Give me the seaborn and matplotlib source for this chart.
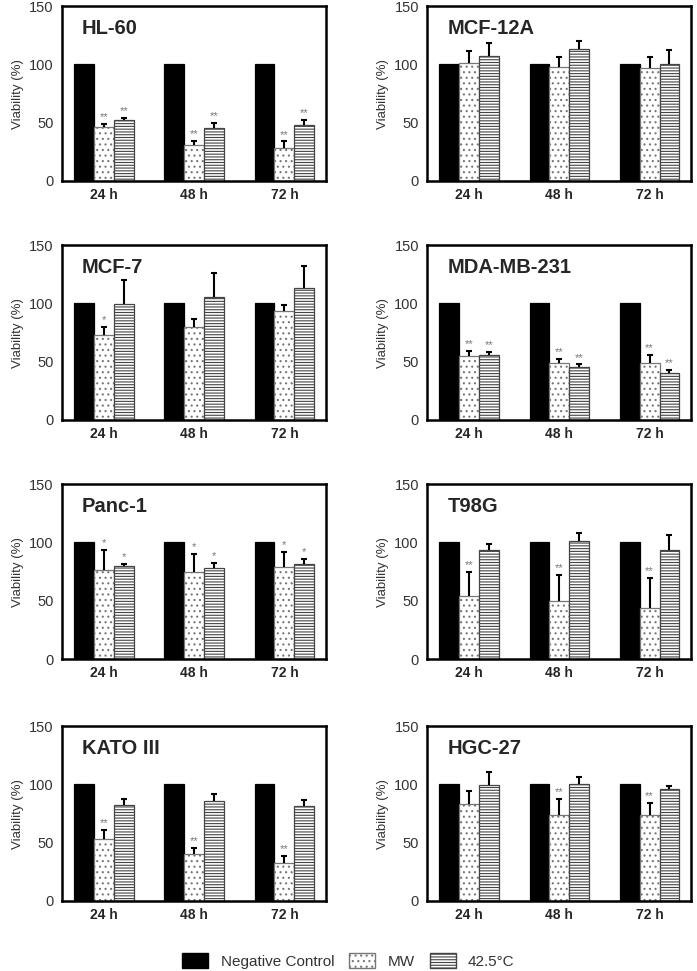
import pandas as pd
import matplotlib.pyplot as plt
import seaborn as sns
from matplotlib.patches import Patch

# Data
cell_lines = ["HL-60", "MCF-12A", "MCF-7", "MDA-MB-231", "Panc-1", "T98G", "KATO III", "HGC-27"]
times = ["24 h", "48 h", "72 h"]
groups = ["Negative Control", "MW", "42.5°C"]

control_mean = [100, 100, 100]

mw_mean = {
    "HL-60": [46.7, 30.8, 28.2],
    "MCF-12A": [101.4, 98.0, 96.6],
    "MCF-7": [72.9, 79.6, 93.3],
    "MDA-MB-231": [55.0, 48.8, 49.1],
    "Panc-1": [76.6, 74.9, 79.2],
    "T98G": [54.5, 49.9, 43.5],
    "KATO III": [53.5, 40.1, 32.3],
    "HGC-27": [83.5, 74.1, 74.1],
}
mw_sd = {
    "HL-60": [2.3, 3.8, 5.8],
    "MCF-12A": [10.0, 8.3, 9.7],
    "MCF-7": [7.3, 7.3, 5.5],
    "MDA-MB-231": [4.6, 3.8, 6.7],
    "Panc-1": [16.8, 15.0, 12.7],
    "T98G": [20.0, 22.0, 25.8],
    "KATO III": [7.5, 5.5, 6.4],
    "HGC-27": [11.2, 13.3, 10.0],
}
heat_mean = {
    "HL-60": [52.4, 45.2, 47.8],
    "MCF-12A": [107.4, 113.4, 100.6],
    "MCF-7": [99.4, 105.2, 113.1],
    "MDA-MB-231": [55.6, 45.3, 40.4],
    "Panc-1": [79.5, 77.7, 81.8],
    "T98G": [93.3, 101.2, 93.3],
    "KATO III": [82.6, 85.5, 81.4],
    "HGC-27": [99.7, 100.3, 96.2],
}
heat_sd = {
    "HL-60": [1.6, 4.4, 4.4],
    "MCF-12A": [10.9, 6.6, 12.0],
    "MCF-7": [21.0, 20.5, 19.3],
    "MDA-MB-231": [2.6, 2.4, 2.6],
    "Panc-1": [2.0, 5.0, 4.0],
    "T98G": [5.5, 6.9, 13.1],
    "KATO III": [5.2, 6.7, 5.2],
    "HGC-27": [10.6, 6.5, 2.9],
}
mw_sig = {
    "HL-60": ["**", "**", "**"],
    "MCF-12A": ["", "", ""],
    "MCF-7": ["*", "", ""],
    "MDA-MB-231": ["**", "**", "**"],
    "Panc-1": ["*", "*", "*"],
    "T98G": ["**", "**", "**"],
    "KATO III": ["**", "**", "**"],
    "HGC-27": ["", "**", "**"],
}
heat_sig = {
    "HL-60": ["**", "**", "**"],
    "MCF-12A": ["", "", ""],
    "MCF-7": ["", "", ""],
    "MDA-MB-231": ["**", "**", "**"],
    "Panc-1": ["*", "*", "*"],
    "T98G": ["", "", ""],
    "KATO III": ["", "", ""],
    "HGC-27": ["", "", ""],
}

sns.set_style("white")
plt.rcParams["font.family"] = ["Liberation Sans", "DejaVu Sans"]
plt.rcParams["hatch.linewidth"] = 0.8

fig = plt.figure(figsize=(6.97, 9.71), dpi=100)

col_left = [0.089, 0.613]
row_bottom = [0.8136, 0.5675, 0.3213, 0.0721]
ax_w, ax_h = 0.379, 0.180

palette = {"Negative Control": "black", "MW": "white", "42.5°C": "white"}
edges = ["black", "#777777", "#444444"]
hatches = ["", "...", "------"]

for i, cell in enumerate(cell_lines):
    ax = fig.add_axes([col_left[i % 2], row_bottom[i // 2], ax_w, ax_h])

    rows = []
    for t_idx, t in enumerate(times):
        rows.append({"time": t, "group": groups[0], "viability": control_mean[t_idx], "sd": 0.0})
        rows.append({"time": t, "group": groups[1], "viability": mw_mean[cell][t_idx], "sd": mw_sd[cell][t_idx]})
        rows.append({"time": t, "group": groups[2], "viability": heat_mean[cell][t_idx], "sd": heat_sd[cell][t_idx]})
    df = pd.DataFrame(rows)

    sns.barplot(data=df, x="time", y="viability", hue="group", hue_order=groups,
                order=times, palette=palette, saturation=1, width=0.66,
                errorbar=None, legend=False, ax=ax, zorder=2)

    sig_lists = [None, mw_sig[cell], heat_sig[cell]]
    bar_containers = list(ax.containers)
    for g_idx, cont in enumerate(bar_containers):
        sub = df[df["group"] == groups[g_idx]].set_index("time").loc[times]
        xs = []
        for bar in cont:
            bar.set_edgecolor(edges[g_idx])
            bar.set_linewidth(0.9)
            bar.set_hatch(hatches[g_idx])
            xs.append(bar.get_x() + bar.get_width() / 2)
        if g_idx == 0:
            continue
        eb = ax.errorbar(xs, sub["viability"], yerr=[[0] * 3, sub["sd"].tolist()],
                         fmt="none", ecolor="black", elinewidth=1.5, capsize=2.5,
                         capthick=1.5, zorder=3)
        eb[1][0].set_visible(False)
        for x, m, s, mark in zip(xs, sub["viability"], sub["sd"], sig_lists[g_idx]):
            if mark:
                ax.text(x, m + s + 1.5, mark, ha="center", va="bottom",
                        fontsize=8, color="#777777")

    ax.set_ylim(0, 150)
    ax.set_yticks([0, 50, 100, 150])
    ax.set_xlabel("")
    ax.set_ylabel("Viability (%)", fontsize=9.5, color="#333333", labelpad=4)
    ax.tick_params(axis="y", direction="in", length=3, width=1.5, pad=6,
                   labelsize=10.5, labelcolor="#333333")
    ax.tick_params(axis="x", length=0, pad=5, labelsize=10)
    for lab in ax.get_xticklabels():
        lab.set_fontweight("bold")
    for sp in ax.spines.values():
        sp.set_visible(True)
        sp.set_color("black")
        sp.set_linewidth(1.8)
    ax.text(0.076, 0.875, cell, transform=ax.transAxes, fontsize=14.5,
            fontweight="bold", ha="left", va="center")

handles = [Patch(facecolor="black", edgecolor="black"),
           Patch(facecolor="white", edgecolor="#777777", hatch="..."),
           Patch(facecolor="white", edgecolor="#444444", hatch="------")]
fig.legend(handles, groups, loc="center", bbox_to_anchor=(0.5, 0.0103), ncol=3,
           frameon=False, fontsize=11, handlelength=1.7, handleheight=1.1,
           columnspacing=1.0, handletextpad=0.8, labelcolor="#333333")

fig.savefig("out.png", dpi=100)
